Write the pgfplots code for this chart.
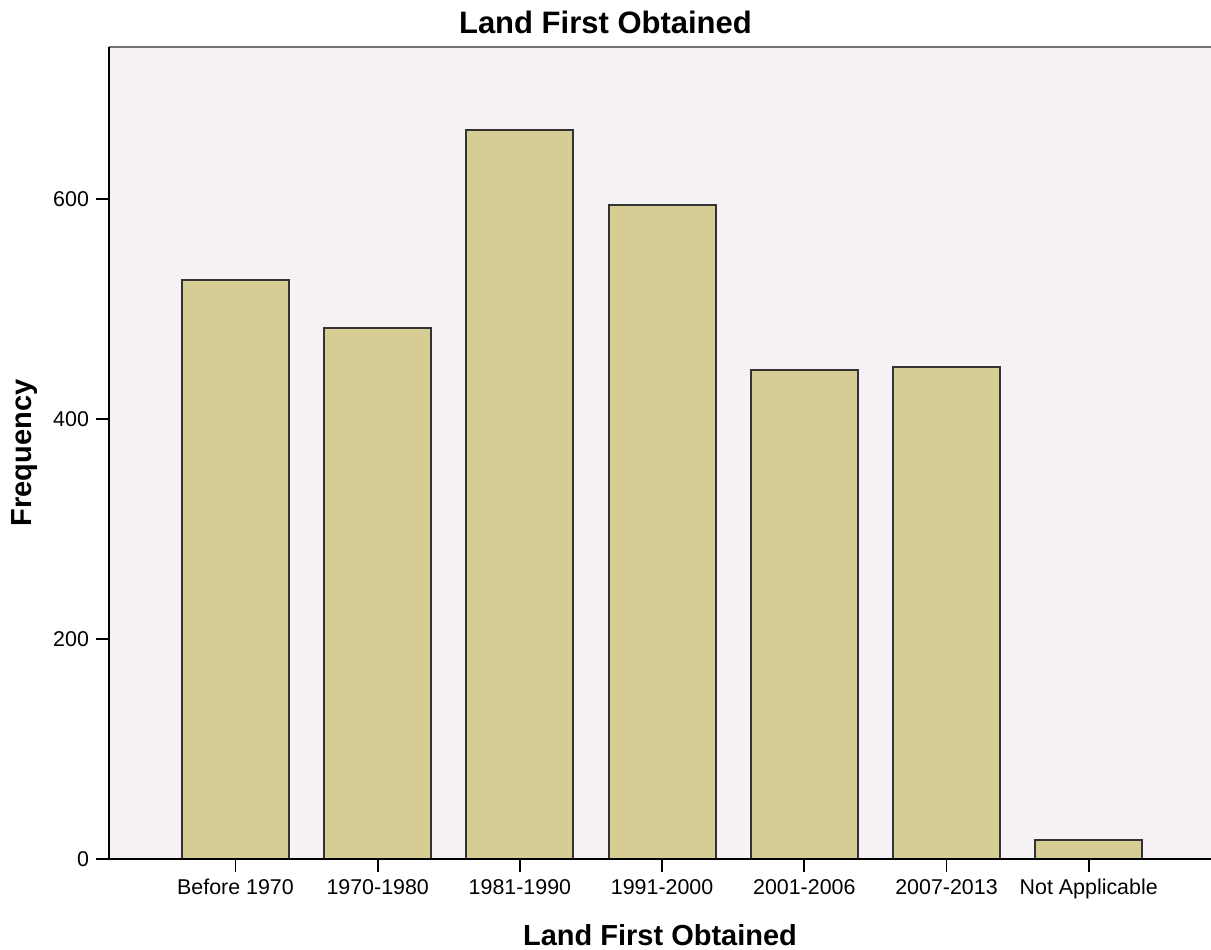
\documentclass[border=0pt]{standalone}
\usepackage{fontspec}
\setmainfont{Liberation Sans}
\usepackage{pgfplots}
\pgfplotsset{compat=1.18}

\definecolor{plotbg}{HTML}{F5F1F5}
\definecolor{barfill}{HTML}{D6CD95}
\definecolor{baredge}{HTML}{333333}

\begin{document}
\begin{tikzpicture}
\begin{axis}[
    scale only axis,
    width=551pt, height=406pt,
    xmin=-0.8896, xmax=6.86,
    ymin=0, ymax=738,
    axis background/.style={fill=plotbg},
    axis line style={draw=none},
    xtick={0,1,2,3,4,5,6},
    xticklabels={Before 1970,1970-1980,1981-1990,1991-2000,2001-2006,2007-2013,Not Applicable},
    ytick={0,200,400,600},
    xtick pos=bottom, ytick pos=left,
    tick align=outside,
    major tick length=6.5pt,
    tick style={black, line width=0.9pt},
    ticklabel style={font=\fontsize{10.7}{12}\selectfont},
    /pgf/number format/assume math mode=true,
    clip=false,
]
\addplot[ybar, bar width=53.5pt, fill=barfill, draw=baredge, line width=1pt]
    coordinates {(0,526) (1,483) (2,663) (3,594) (4,444) (5,447) (6,17)};

\draw[black!55, line width=1.2pt] (rel axis cs:0,1) -- (rel axis cs:1,1);
\draw[black, line width=1pt] (rel axis cs:0,1) -- (rel axis cs:0,0) -- (rel axis cs:1,0);

\coordinate (SW) at (rel axis cs:0,0);
\coordinate (NE) at (rel axis cs:1,1);
\node[font=\fontsize{15.5}{18}\selectfont\bfseries] at ([yshift=12.5pt]rel axis cs:0.4505,1) {Land First Obtained};
\node[font=\fontsize{14.5}{17}\selectfont\bfseries] at ([yshift=-38pt]rel axis cs:0.5,0) {Land First Obtained};
\node[font=\fontsize{14.5}{17}\selectfont\bfseries, rotate=90] at ([xshift=-42pt]rel axis cs:0,0.5) {Frequency};
\end{axis}
\pgfresetboundingbox
\path[use as bounding box] ([shift={(-54.5pt,-45pt)}]SW) rectangle ([shift={(0pt,23.5pt)}]NE);
\end{tikzpicture}
\end{document}
